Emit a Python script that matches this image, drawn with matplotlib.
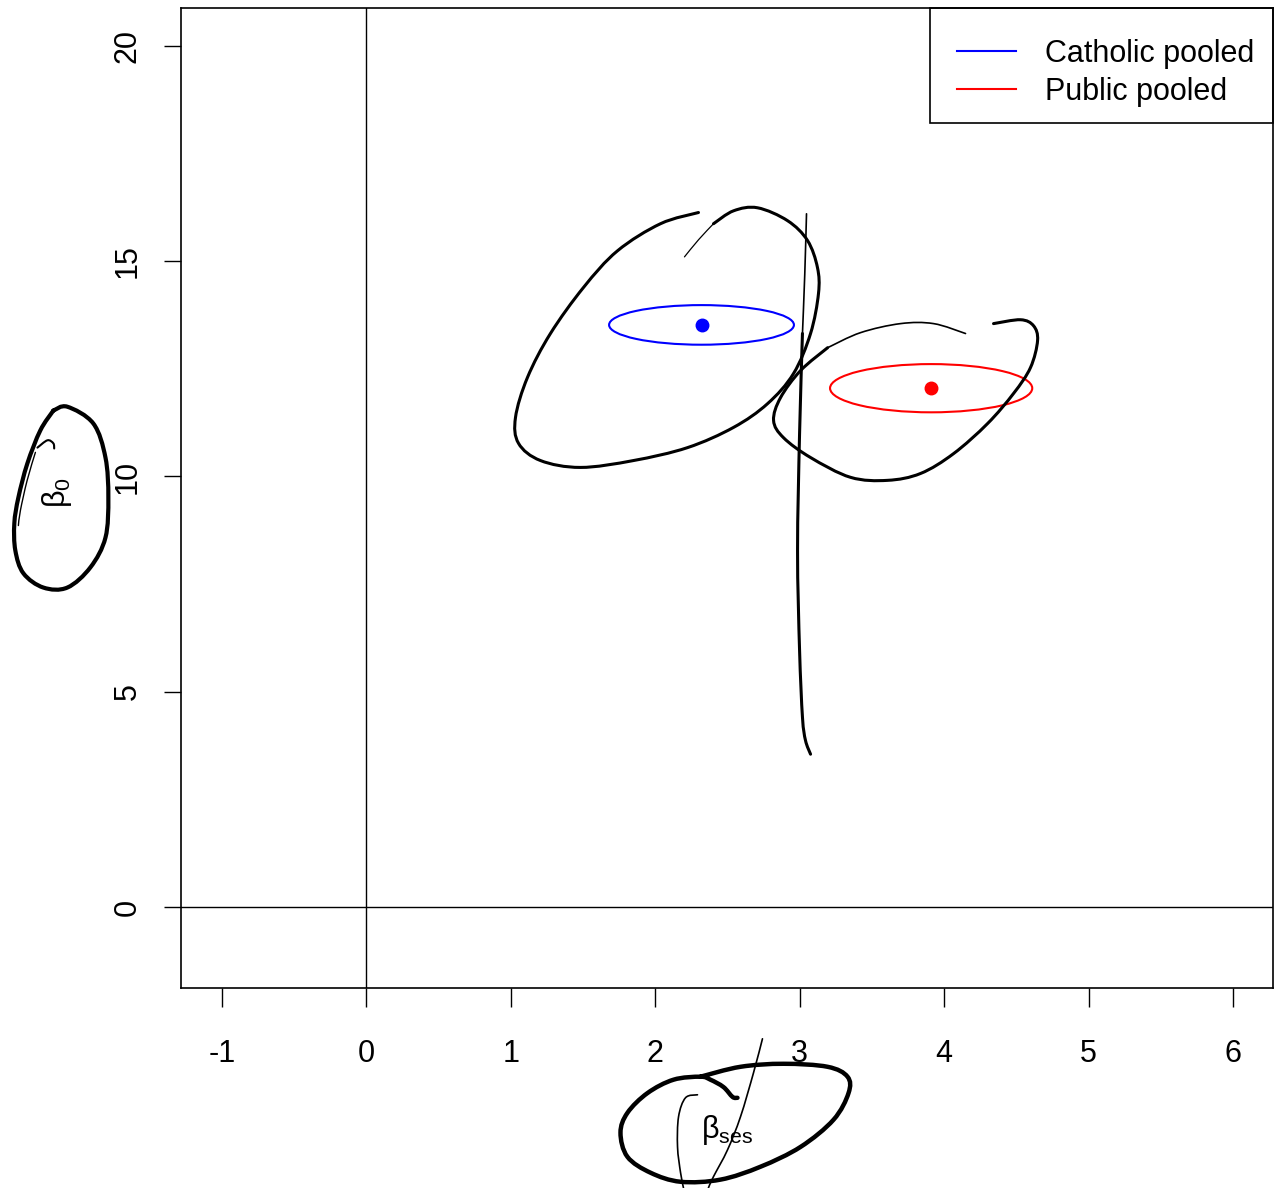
import numpy as np
import matplotlib
matplotlib.use("Agg")
import matplotlib.pyplot as plt
from matplotlib.patches import Ellipse, PathPatch, Rectangle
from matplotlib.path import Path
from matplotlib.lines import Line2D

plt.rcParams['font.family'] = ['Liberation Sans', 'DejaVu Sans']
plt.rcParams['axes.unicode_minus'] = False
plt.rcParams['mathtext.default'] = 'regular'

# ---- data ----
groups = ["Catholic pooled", "Public pooled"]
colors = ["blue", "red"]
center_ses = [2.32, 3.91]
center_b0 = [13.52, 12.05]
half_ses = [0.64, 0.70]
half_b0 = [0.46, 0.56]

xticks = [-1, 0, 1, 2, 3, 4, 5, 6]
yticks = [0, 5, 10, 15, 20]

# ---- freehand annotation strokes (data units) ----
loopA_x = [2.299, 2.036, 1.738, 1.503, 1.274, 1.115, 1.032, 1.053, 1.205, 1.482, 1.849, 2.223,
           2.542, 2.777, 2.957, 3.075, 3.130, 3.123, 3.054, 2.916, 2.708, 2.542, 2.403]
loopA_y = [16.13, 15.87, 15.24, 14.39, 13.32, 12.30, 11.37, 10.77, 10.37, 10.21, 10.37, 10.67,
           11.14, 11.69, 12.39, 13.32, 14.25, 14.85, 15.48, 15.94, 16.24, 16.17, 15.87]
tailA_x = [2.403, 2.30, 2.202]
tailA_y = [15.87, 15.50, 15.10]

stemB_top_x = [3.047, 3.035, 3.019]
stemB_top_y = [16.10, 14.70, 13.32]
stemB_x = [3.019, 2.999, 2.985, 2.999, 3.019, 3.040, 3.075]
stemB_y = [13.32, 11.00, 8.28, 5.96, 4.41, 3.87, 3.55]

loopC_thin_x = [4.148, 3.927, 3.698, 3.421, 3.193]
loopC_thin_y = [13.32, 13.55, 13.55, 13.34, 12.99]
loopC_x = [3.193, 3.006, 2.867, 2.819, 2.888, 3.075, 3.352, 3.608, 3.837, 4.065, 4.301, 4.481,
           4.598, 4.647, 4.619, 4.529, 4.342]
loopC_y = [12.99, 12.46, 11.83, 11.30, 10.90, 10.44, 9.98, 9.91, 10.07, 10.53, 11.23, 11.93,
           12.53, 13.16, 13.50, 13.64, 13.55]

b0_loop_x = [-2.168, -2.071, -1.891, -1.807, -1.787, -1.807, -1.911, -2.071, -2.237, -2.375,
             -2.431, -2.438, -2.410, -2.348, -2.258, -2.168]
b0_loop_y = [11.53, 11.62, 11.23, 10.44, 9.51, 8.58, 7.89, 7.42, 7.42, 7.75,
             8.28, 8.91, 9.51, 10.30, 11.07, 11.53]
b0_hook_x = [-2.278, -2.209, -2.168, -2.162]
b0_hook_y = [10.67, 10.84, 10.77, 10.65]
b0_inner_x = [-2.292, -2.35, -2.396, -2.410]
b0_inner_y = [10.56, 9.90, 9.21, 8.86]

bses_loop_x = [2.569, 2.535, 2.472, 2.382, 2.313, 2.126, 1.946, 1.807, 1.759, 1.807, 1.967,
               2.175, 2.452, 2.729, 3.006, 3.234, 3.338, 3.331, 3.193, 2.888, 2.590, 2.313]
bses_loop_y = [-4.43, -4.41, -4.18, -4.01, -3.94, -4.01, -4.32, -4.78, -5.24, -5.80, -6.17,
               -6.38, -6.33, -6.03, -5.57, -4.94, -4.32, -3.94, -3.71, -3.64, -3.71, -3.94]
bses_line_x = [2.742, 2.680, 2.590, 2.500, 2.403, 2.368]
bses_line_y = [-3.06, -3.85, -4.87, -5.64, -6.26, -6.52]
bses_inner_x = [2.292, 2.209, 2.161, 2.154, 2.175, 2.195]
bses_inner_y = [-4.36, -4.43, -4.87, -5.57, -6.17, -6.52]


def smooth_path(xs, ys):
    P = np.column_stack([xs, ys]).astype(float)
    n = len(P)
    verts = [P[0]]
    codes = [Path.MOVETO]
    for i in range(n - 1):
        p0 = P[i - 1] if i > 0 else P[i]
        p1 = P[i]
        p2 = P[i + 1]
        p3 = P[i + 2] if i + 2 < n else P[i + 1]
        c1 = p1 + (p2 - p0) / 6.0
        c2 = p2 - (p3 - p1) / 6.0
        verts += [c1, c2, p2]
        codes += [Path.CURVE4] * 3
    return Path(verts, codes)


fig = plt.figure(figsize=(12.75, 11.88), dpi=100)
ax = fig.add_axes([181 / 1275, 1 - 988 / 1188, (1273 - 181) / 1275, (988 - 8) / 1188])
ax.set_xlim(-1.284, 6.277)
ax.set_ylim(-1.88, 20.88)

ax.axhline(0, color='black', lw=1.0, zorder=1)
ax.axvline(0, color='black', lw=1.0, zorder=1)

for i in range(len(groups)):
    e = Ellipse((center_ses[i], center_b0[i]), 2 * half_ses[i], 2 * half_b0[i],
                fill=False, edgecolor=colors[i], lw=1.5, zorder=3)
    ax.add_patch(e)
    ax.plot(center_ses[i], center_b0[i], 'o', color=colors[i], ms=9, zorder=4)

strokes = [
    (loopA_x, loopA_y, 2.2), (tailA_x, tailA_y, 0.9),
    (stemB_top_x, stemB_top_y, 1.2), (stemB_x, stemB_y, 2.2),
    (loopC_thin_x, loopC_thin_y, 1.2), (loopC_x, loopC_y, 2.2),
    (b0_loop_x, b0_loop_y, 3.0), (b0_hook_x, b0_hook_y, 1.5), (b0_inner_x, b0_inner_y, 1.0),
    (bses_loop_x, bses_loop_y, 3.2), (bses_line_x, bses_line_y, 1.2),
    (bses_inner_x, bses_inner_y, 1.2),
]
for sx, sy, lw in strokes:
    ax.add_patch(PathPatch(smooth_path(sx, sy), fill=False, edgecolor='black', lw=lw,
                           capstyle='round', joinstyle='round', clip_on=False, zorder=5))

ax.set_xticks(xticks)
ax.set_xticklabels([str(t) for t in xticks])
ax.set_yticks(yticks)
ax.set_yticklabels([str(t) for t in yticks], rotation=90, va='center')
ax.tick_params(axis='x', length=13.7, width=1.0, pad=23, labelsize=22, direction='out')
ax.tick_params(axis='y', length=12.6, width=1.0, pad=15, labelsize=22, direction='out')
for s in ax.spines.values():
    s.set_linewidth(1.2)

ax.set_xlabel(r'$β_{ses}$', fontsize=22)
ax.xaxis.set_label_coords(0.5, (988 - 1130) / 980, transform=ax.transAxes)
ax.set_ylabel(r'$β_0$', fontsize=22)
ax.yaxis.set_label_coords((57 - 181) / 1092, 0.5 + 5 / 980, transform=ax.transAxes)
ax.xaxis.label.set_va('center')
ax.yaxis.label.set_va('center')

# legend: entries without frame, frame drawn as R does (extra top padding)
handles = [Line2D([], [], color=c, lw=1.5) for c in colors]
leg = ax.legend(handles, groups, loc='upper right', fontsize=22, frameon=False,
                bbox_to_anchor=((1254 - 181) / 1092, 1 - (39 - 8) / 980),
                borderaxespad=0, borderpad=0, handlelength=1.93,
                handletextpad=0.95, labelspacing=0.26)
ax.add_patch(Rectangle(((930 - 181) / 1092, 1 - (123 - 8) / 980), (1273 - 930) / 1092,
                       (123 - 8) / 980, transform=ax.transAxes, fill=False,
                       edgecolor='black', lw=1.2, clip_on=False, zorder=6))

fig.savefig('out.png', dpi=100)
